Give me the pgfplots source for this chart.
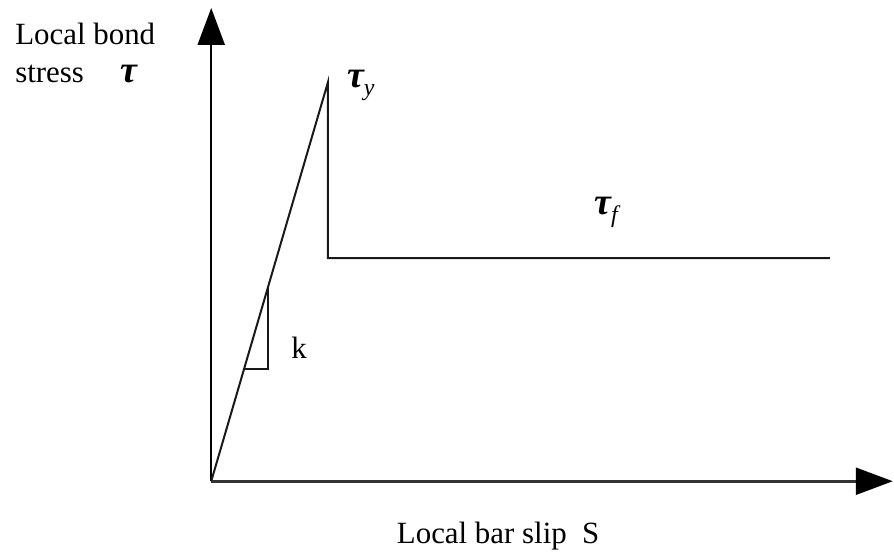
\documentclass[border=0pt]{standalone}
\usepackage{fontspec}
\setmainfont{Liberation Serif}
\usepackage{pgfplots}
\pgfplotsset{compat=1.18}
\usetikzlibrary{arrows.meta}

\newcommand{\lbl}{\fontsize{15.5}{19}\selectfont}
\newcommand{\sym}{\fontsize{19}{22}\selectfont\bfseries\itshape}
\newcommand{\sub}[1]{\raisebox{-0.45ex}{\fontsize{12}{13}\selectfont\mdseries\itshape #1}}

\begin{document}
\begin{tikzpicture}
\begin{axis}[
  x=0.5pt, y=0.5pt,
  xmin=-212, xmax=682, ymin=-71, ymax=483,
  hide axis, clip=false,
]
% frame of the drawing area
\path (axis cs:-212,-71) rectangle (axis cs:682,483);

% coordinate axes with filled arrow heads
\addplot[line width=1.3pt, color=black!80,
  -{Triangle[length=18.5pt,width=13.5pt,color=black]}]
  coordinates {(0,0) (684,0)};
\addplot[line width=1.1pt, color=black,
  -{Triangle[length=18.5pt,width=13.5pt]}]
  coordinates {(0,0) (0,475)};

% bond stress--slip law: linear rise, sudden drop, constant friction
\addplot[line width=1pt, color=black!90]
  coordinates {(0,0) (117,400) (117,224) (621,224)};

% slope triangle for stiffness k
\addplot[line width=0.8pt, color=black!90]
  coordinates {(33,112.8) (57,112.8) (57,194.9)};

% labels
\node[anchor=base west, inner sep=0pt] at (axis cs:-197,438) {\lbl Local bond};
\node[anchor=base west, inner sep=0pt] at (axis cs:-197,400) {\lbl stress};
\node[anchor=base west, inner sep=0pt] at (axis cs:-91,400) {\sym τ};
\node[anchor=base west, inner sep=0pt] at (axis cs:136,395) {\sym τ\sub{y}};
\node[anchor=base west, inner sep=0pt] at (axis cs:384,268) {\sym τ\sub{f}};
\node[anchor=base west, inner sep=0pt] at (axis cs:80,123) {\lbl k};
\node[anchor=base west, inner sep=0pt] at (axis cs:186,-62) {\lbl Local bar slip\ \ S};
\end{axis}
\end{tikzpicture}
\end{document}
